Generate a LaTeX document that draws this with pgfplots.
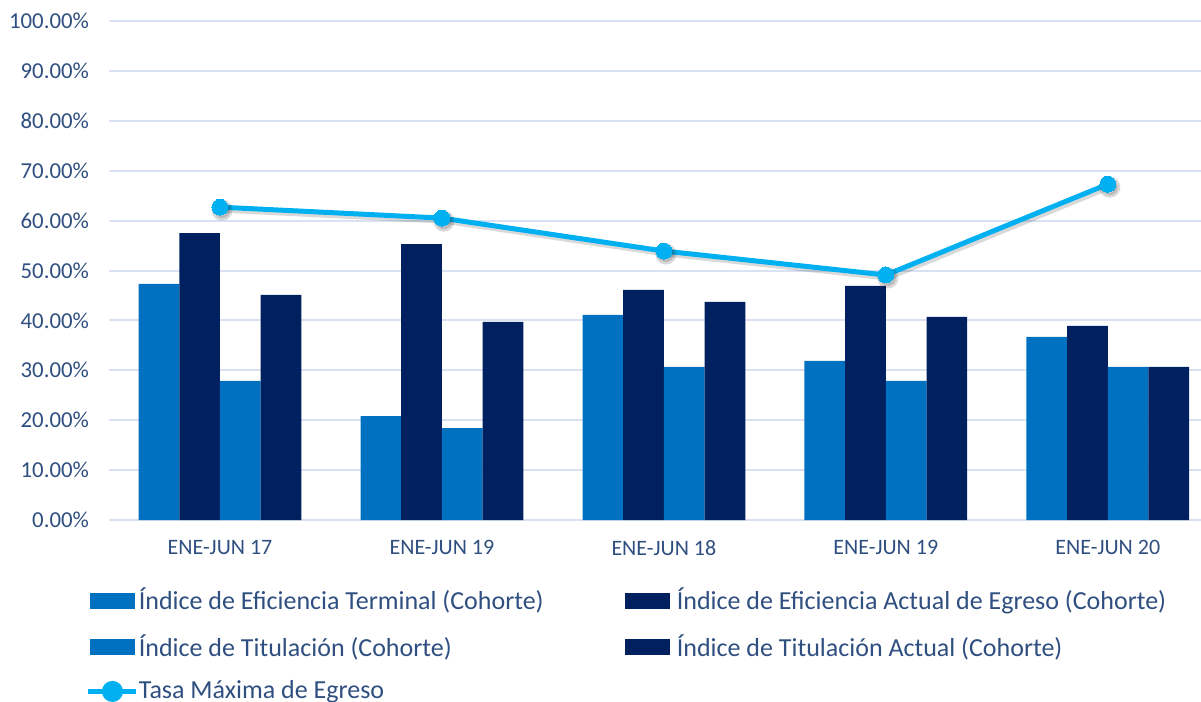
\documentclass[border=0pt]{standalone}
\usepackage{fontspec}
\setmainfont{Carlito}
\usepackage{pgfplots}
\pgfplotsset{compat=1.18}

\definecolor{lightbar}{HTML}{0070C0}
\definecolor{darkbar}{HTML}{002060}
\definecolor{linecol}{HTML}{00B0F0}
\definecolor{gridcol}{HTML}{D9E1F2}
\definecolor{textcol}{HTML}{2F4F80}

\newcommand{\entry}[1]{\hspace*{-1.8pt}\makebox[241.3pt][l]{#1}}

\begin{document}
\begin{tikzpicture}
\begin{axis}[
    name=ax,
    scale only axis,
    width=546pt,
    height=249.5pt,
    xmin=-0.5, xmax=4.42,
    ymin=0, ymax=100,
    xtick={0,1,2,3,4},
    xticklabels={ENE-JUN 17, ENE-JUN 19, ENE-JUN 18, ENE-JUN 19, ENE-JUN 20},
    ytick={0,10,...,100},
    yticklabels={0.00\%,10.00\%,20.00\%,30.00\%,40.00\%,50.00\%,60.00\%,70.00\%,80.00\%,90.00\%,100.00\%},
    ymajorgrids,
    grid style={gridcol, line width=1pt},
    axis line style={draw=none},
    major tick length=0pt,
    tick label style={text=textcol},
    xticklabel style={font=\fontsize{11}{13}\selectfont, yshift=-6.5pt},
    yticklabel style={font=\fontsize{11.4}{13}\selectfont, xshift=-6.5pt},
    clip=false,
    legend columns=2,
    legend style={
        at={(axis description cs:-0.0274,-0.12)},
        anchor=north west,
        draw=none, fill=none,
        font=\fontsize{13}{16}\selectfont,
        text=textcol,
        row sep=6.8pt,
        /tikz/every odd column/.append style={column sep=0pt},
    },
    legend cell align=left,
]

\addplot[ybar, bar width=0.1833, bar shift=-0.275, fill=lightbar, draw=none,
    legend image code/.code={\fill[lightbar] (0pt,-4pt) rectangle (22.5pt,4pt);}]
    coordinates {(0,47.3) (1,20.8) (2,41.1) (3,31.9) (4,36.7)};
\addlegendentry{\entry{Índice de Eficiencia Terminal (Cohorte)}}

\addplot[ybar, bar width=0.1833, bar shift=-0.0917, fill=darkbar, draw=none,
    legend image code/.code={\fill[darkbar] (0pt,-4pt) rectangle (22.5pt,4pt); \path (25.5pt,0pt);}]
    coordinates {(0,57.5) (1,55.3) (2,46.1) (3,46.9) (4,38.9)};
\addlegendentry{\entry{Índice de Eficiencia Actual de Egreso (Cohorte)}}

\addplot[ybar, bar width=0.1833, bar shift=0.0917, fill=lightbar, draw=none,
    legend image code/.code={\fill[lightbar] (0pt,-4pt) rectangle (22.5pt,4pt);}]
    coordinates {(0,27.9) (1,18.4) (2,30.7) (3,27.9) (4,30.7)};
\addlegendentry{\entry{Índice de Titulación (Cohorte)}}

\addplot[ybar, bar width=0.1833, bar shift=0.275, fill=darkbar, draw=none,
    legend image code/.code={\fill[darkbar] (0pt,-4pt) rectangle (22.5pt,4pt); \path (25.5pt,0pt);}]
    coordinates {(0,45.1) (1,39.7) (2,43.7) (3,40.7) (4,30.7)};
\addlegendentry{\entry{Índice de Titulación Actual (Cohorte)}}

% soft shadow under the line
\addplot[forget plot, sharp plot, black, opacity=0.15, line width=2.5pt, mark=*, mark size=4pt,
    mark options={fill=black, draw=none}, xshift=1pt, yshift=-1.5pt]
    coordinates {(0,62.7) (1,60.5) (2,53.9) (3,49.1) (4,67.3)};

\addplot[sharp plot, linecol, line width=2.5pt, mark=*, mark size=4pt,
    mark options={fill=linecol, draw=linecol, line width=0pt},
    legend image code/.code={
        \draw[linecol, line width=2.5pt] (-1pt,0pt) -- (23pt,0pt);
        \fill[linecol] (11.25pt,0pt) circle (4pt);}]
    coordinates {(0,62.7) (1,60.5) (2,53.9) (3,49.1) (4,67.3)};
\addlegendentry{\entry{Tasa Máxima de Egreso}}

\end{axis}
\pgfresetboundingbox
\path[use as bounding box] ([xshift=-54.5pt, yshift=-91pt]ax.south west) rectangle ([yshift=10.5pt]ax.north east);
\end{tikzpicture}
\end{document}
